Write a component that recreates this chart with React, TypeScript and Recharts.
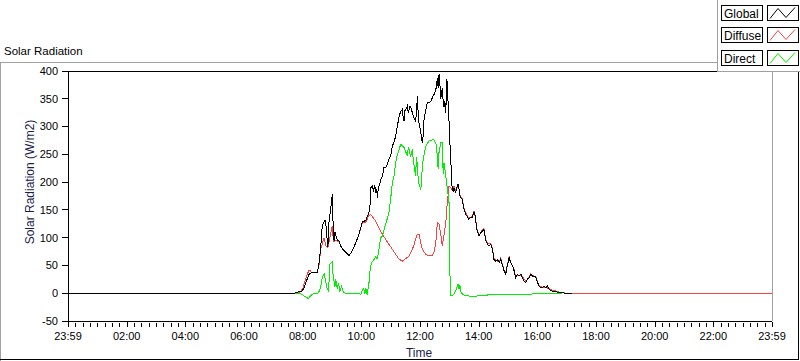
import React from 'react';
import { LineChart, Line, XAxis, YAxis } from 'recharts';

const FONT = '"Liberation Sans", Arial, sans-serif';

// Axis ticks
const xTickHours = [0, 2, 4, 6, 8, 10, 12, 14, 16, 18, 20, 22, 24];
const xTickLabels = ['23:59', '02:00', '04:00', '06:00', '08:00', '10:00', '12:00', '14:00', '16:00', '18:00', '20:00', '22:00', '23:59'];
const xMinorTicks = Array.from({ length: 97 }, (_, i) => i * 0.25);
const yTicks = [-50, 0, 50, 100, 150, 200, 250, 300, 350, 400];

// Series meta
const seriesNames = ['Global', 'Diffuse', 'Direct'];
const seriesColors = ['#000000', '#ff4040', '#00ee00'];

// Global radiation (hours, W/m2)
const globalTimes = [
  0, 7.70, 7.77, 7.88, 7.98, 8.05, 8.15, 8.22, 8.30, 8.49,
  8.55, 8.62, 8.65, 8.67, 8.72, 8.76, 8.80, 8.83, 8.86, 8.90,
  8.95, 9.01, 9.04, 9.07, 9.10, 9.13, 9.18, 9.24, 9.30, 9.35,
  9.47, 9.58, 9.69, 9.81, 9.92, 10.03, 10.15, 10.22, 10.26, 10.30,
  10.32, 10.37, 10.42, 10.46, 10.49, 10.52, 10.55, 10.58, 10.62, 10.67,
  10.72, 10.77, 10.83, 10.88, 10.94, 11.00, 11.06, 11.11, 11.17, 11.23,
  11.29, 11.34, 11.40, 11.43, 11.46, 11.48, 11.51, 11.57, 11.60, 11.63,
  11.66, 11.68, 11.74, 11.80, 11.85, 11.88, 11.91, 11.94, 11.97, 12.03,
  12.08, 12.11, 12.14, 12.20, 12.25, 12.31, 12.37, 12.42, 12.48, 12.54,
  12.57, 12.59, 12.62, 12.65, 12.68, 12.71, 12.76, 12.79, 12.82, 12.85,
  12.88, 12.91, 12.93, 12.96, 12.99, 13.02, 13.05, 13.08, 13.10, 13.13,
  13.16, 13.19, 13.22, 13.25, 13.30, 13.33, 13.36, 13.39, 13.44, 13.50,
  13.56, 13.61, 13.67, 13.72, 13.78, 13.84, 13.87, 13.90, 13.95, 14.01,
  14.07, 14.13, 14.18, 14.24, 14.30, 14.35, 14.41, 14.47, 14.52, 14.58,
  14.64, 14.70, 14.75, 14.81, 14.87, 14.92, 14.98, 15.04, 15.09, 15.15,
  15.21, 15.26, 15.32, 15.38, 15.44, 15.49, 15.55, 15.61, 15.66, 15.72,
  15.78, 15.84, 15.90, 15.95, 16.01, 16.06, 16.12, 16.17, 16.23, 16.29,
  16.34, 16.40, 16.51, 16.63, 16.74, 16.84, 16.97, 17.18,
];
const globalValues = [
  0, 0, 1, 3, 4, 10, 25, 34, 37, 37,
  50, 85, 110, 122, 128, 132, 120, 100, 83, 130,
  150, 178, 120, 94, 110, 105, 95, 94, 85, 80,
  74, 68, 76, 91, 106, 128, 131, 140, 146, 160,
  190, 193, 185, 195, 180, 188, 172, 190, 195, 205,
  211, 227, 226, 232, 241, 248, 265, 272, 282, 301,
  319, 327, 331, 315, 310, 328, 330, 337, 325, 330,
  337, 335, 325, 315, 310, 325, 355, 320, 305, 289,
  270, 285, 315, 331, 343, 343, 345, 352, 358, 367,
  375, 388, 370, 394, 375, 350, 370, 345, 335, 345,
  325, 385, 379, 340, 310, 270, 241, 200, 187, 184,
  190, 185, 181, 190, 196, 188, 175, 172, 169, 151,
  142, 138, 133, 136, 136, 145, 144, 130, 112, 103,
  109, 112, 115, 95, 88, 85, 88, 79, 61, 58,
  61, 55, 61, 50, 40, 34, 50, 64, 55, 50,
  40, 28, 34, 31, 34, 28, 22, 19, 25, 28,
  34, 31, 31, 28, 19, 13, 10, 10, 13, 10,
  13, 7, 4, 3, 1, 1, 0, 0,
];

// Diffuse radiation
const diffuseTimes = [
  7.70, 7.90, 8.00, 8.10, 8.20, 8.25, 8.30, 8.49, 8.55, 8.62,
  8.67, 8.72, 8.76, 8.80, 8.86, 8.93, 9.01, 9.04, 9.07, 9.13,
  9.24, 9.35, 9.47, 9.58, 9.69, 9.81, 9.92, 10.03, 10.15, 10.26,
  10.32, 10.37, 10.49, 10.60, 10.72, 10.83, 10.94, 11.06, 11.17, 11.29,
  11.40, 11.51, 11.63, 11.74, 11.80, 11.85, 11.91, 11.97, 12.03, 12.08,
  12.20, 12.31, 12.42, 12.48, 12.54, 12.59, 12.65, 12.71, 12.76, 12.82,
  12.88, 12.93, 12.99, 13.05, 13.10, 13.16, 13.22, 13.30, 13.36, 13.44,
  13.50, 13.56, 13.67, 13.78, 13.84, 13.90, 13.95, 14.01, 14.13, 14.18,
  14.24, 14.30, 14.41, 14.47, 14.52, 14.58, 14.70, 14.75, 14.87, 14.92,
  14.98, 15.04, 15.09, 15.21, 15.26, 15.38, 15.49, 15.61, 15.72, 15.78,
  15.84, 15.95, 16.06, 16.17, 16.29, 16.40, 16.51, 16.63, 16.74, 16.97,
  17.18, 24,
];
const diffuseValues = [
  0, 1, 8, 25, 40, 42, 37, 37, 48, 80,
  88, 100, 92, 85, 82, 100, 121, 100, 92, 95,
  92, 80, 74, 68, 76, 91, 106, 126, 128, 140,
  142, 138, 130, 117, 106, 97, 88, 79, 70, 61,
  58, 62, 67, 79, 88, 97, 106, 105, 90, 79,
  70, 67, 68, 75, 91, 127, 124, 105, 85, 105,
  127, 163, 193, 190, 185, 192, 183, 197, 177, 170,
  153, 144, 135, 138, 148, 132, 114, 104, 114, 117,
  97, 90, 90, 81, 63, 59, 57, 63, 41, 36,
  52, 66, 56, 42, 30, 33, 30, 21, 30, 35,
  32, 29, 14, 11, 11, 8, 5, 4, 2, 0,
  0, 0,
];

// Direct radiation
const directTimes = [
  7.70, 7.88, 7.98, 8.05, 8.15, 8.20, 8.25, 8.30, 8.40, 8.49,
  8.55, 8.62, 8.67, 8.73, 8.78, 8.83, 8.88, 8.93, 9.01, 9.04,
  9.10, 9.13, 9.18, 9.22, 9.27, 9.32, 9.40, 9.47, 9.92, 9.98,
  10.03, 10.08, 10.12, 10.15, 10.20, 10.26, 10.30, 10.35, 10.40, 10.49,
  10.55, 10.60, 10.66, 10.72, 10.80, 10.89, 10.94, 11.00, 11.06, 11.11,
  11.17, 11.23, 11.29, 11.34, 11.40, 11.46, 11.51, 11.57, 11.60, 11.63,
  11.68, 11.74, 11.77, 11.80, 11.85, 11.88, 11.91, 11.94, 11.97, 12.03,
  12.06, 12.08, 12.14, 12.20, 12.25, 12.31, 12.42, 12.48, 12.54, 12.57,
  12.62, 12.65, 12.71, 12.76, 12.79, 12.82, 12.88, 12.93, 12.99, 13.01,
  13.03, 13.10, 13.16, 13.22, 13.27, 13.30, 13.33, 13.36, 13.39, 13.44,
  13.50, 13.56, 13.67, 13.95, 14.13, 14.35, 14.70, 15.50, 16.06, 16.51,
  16.84,
];
const directValues = [
  0, 0, -2, -5, -8, -10, -6, -3, 0, -1,
  2, 12, 29, 35, 22, 10, 3, 52, 57, 30,
  12, 25, 8, 18, 3, 12, 1, 0, 0, -3,
  5, 9, -1, 10, -3, 18, 43, 55, 58, 65,
  62, 79, 100, 103, 120, 135, 145, 170, 199, 210,
  235, 250, 259, 268, 265, 262, 255, 247, 262, 259,
  245, 259, 240, 230, 211, 245, 230, 205, 195, 187,
  210, 230, 250, 265, 270, 274, 276, 276, 270, 260,
  223, 255, 271, 271, 215, 235, 210, 190, 163, 100,
  -5, -4, -2, 5, 13, 16, 8, 15, 3, -1,
  -3, -4, -5, -5, -4, -3, -2, -2, -1, 0,
  0,
];

const toData = (ts: number[], vs: number[]) => ts.map((t, i) => ({ t, v: vs[i] }));
const globalData = toData(globalTimes, globalValues);
const diffuseData = toData(diffuseTimes, diffuseValues);
const directData = toData(directTimes, directValues);

function XTick(props: any) {
  const { x, y, payload } = props;
  const v = payload.value;
  const idx = xTickHours.findIndex((h) => Math.abs(h - v) < 1e-6);
  const major = idx >= 0;
  const xr = Math.round(x) + 0.5;
  return (
    <g>
      <line x1={xr} x2={xr} y1={y + (major ? 1 : 2)} y2={y + 6} stroke="#000" strokeWidth={1} shapeRendering="crispEdges" />
      {major && (
        <text x={x} y={y + 19} textAnchor="middle" fontSize={11} fontFamily={FONT} fill="#000">
          {xTickLabels[idx]}
        </text>
      )}
    </g>
  );
}

const legendRows = [5.5, 27.5, 50.5];

export default function App() {
  return (
    <div style={{ position: 'absolute', left: 0, top: 0, width: 800, height: 361, background: '#fff' }}>
      <style>{`
        .recharts-line-curve { shape-rendering: crispEdges; }
        .recharts-cartesian-axis-line, .recharts-cartesian-axis-tick-line { shape-rendering: crispEdges; }
      `}</style>
      <LineChart width={800} height={361} margin={{ top: 71, right: 28, left: 8, bottom: 10 }}>
        <XAxis
          type="number"
          dataKey="t"
          domain={[0, 24]}
          ticks={xMinorTicks}
          interval={0}
          tick={<XTick />}
          tickLine={false}
          tickSize={0}
          tickMargin={0}
          height={30}
          axisLine={{ stroke: '#000' }}
          allowDuplicatedCategory={false}
        />
        <YAxis
          type="number"
          domain={[-50, 400]}
          ticks={yTicks}
          interval={0}
          width={60}
          tickSize={6}
          tickMargin={4}
          axisLine={{ stroke: '#000' }}
          tickLine={{ stroke: '#000' }}
          tick={{ fontSize: 11, fontFamily: FONT, fill: '#000' }}
        />
        <Line data={diffuseData} dataKey="v" type="linear" stroke={seriesColors[1]} strokeWidth={1} dot={false} activeDot={false} isAnimationActive={false} name={seriesNames[1]} />
        <Line data={directData} dataKey="v" type="linear" stroke={seriesColors[2]} strokeWidth={1} dot={false} activeDot={false} isAnimationActive={false} name={seriesNames[2]} />
        <Line data={globalData} dataKey="v" type="linear" stroke={seriesColors[0]} strokeWidth={1} dot={false} activeDot={false} isAnimationActive={false} name={seriesNames[0]} />
      </LineChart>
      <svg width={800} height={361} style={{ position: 'absolute', left: 0, top: 0, pointerEvents: 'none' }} shapeRendering="crispEdges">
        {/* outer frame */}
        <line x1={0} y1={62.5} x2={800} y2={62.5} stroke="#a0a0a0" />
        <line x1={0.5} y1={62.5} x2={0.5} y2={361} stroke="#a0a0a0" />
        <line x1={0} y1={359.5} x2={799} y2={359.5} stroke="#000" />
        <line x1={798.5} y1={62.5} x2={798.5} y2={360} stroke="#000" />
        {/* plot borders */}
        <line x1={68} y1={71.5} x2={772} y2={71.5} stroke="#000" />
        <line x1={772.5} y1={71} x2={772.5} y2={321} stroke="#a0a0a0" />
        {/* titles */}
        <text x={4} y={55} fontSize={11.5} fontFamily={FONT} fill="#000">Solar Radiation</text>
        <text x={34} y={182} fontSize={12} fontFamily={FONT} fill="#1c1c4c" textAnchor="middle" transform="rotate(-90 34 182)">
          Solar Radiation (W/m2)
        </text>
        <text x={419} y={357} fontSize={12} fontFamily={FONT} fill="#1c1c4c" textAnchor="middle">Time</text>
        {/* legend */}
        <rect x={717.5} y={-1} width={83} height={72.5} fill="#fff" stroke="#a0a0a0" />
        {seriesNames.map((name, i) => {
          const y = legendRows[i];
          return (
            <g key={name}>
              <rect x={721.5} y={y} width={41} height={15} fill="#fff" stroke="#000" />
              <text x={724} y={y + 12} fontSize={12} fontFamily={FONT} fill="#000">{name}</text>
              <rect x={767.5} y={y} width={31} height={15} fill="#fff" stroke="#000" />
              <polyline
                points={`${770},${y + 13} ${778},${y + 3} ${786},${y + 12} ${795},${y + 2}`}
                fill="none"
                stroke={seriesColors[i]}
                strokeWidth={1}
                shapeRendering="auto"
              />
            </g>
          );
        })}
      </svg>
    </div>
  );
}
